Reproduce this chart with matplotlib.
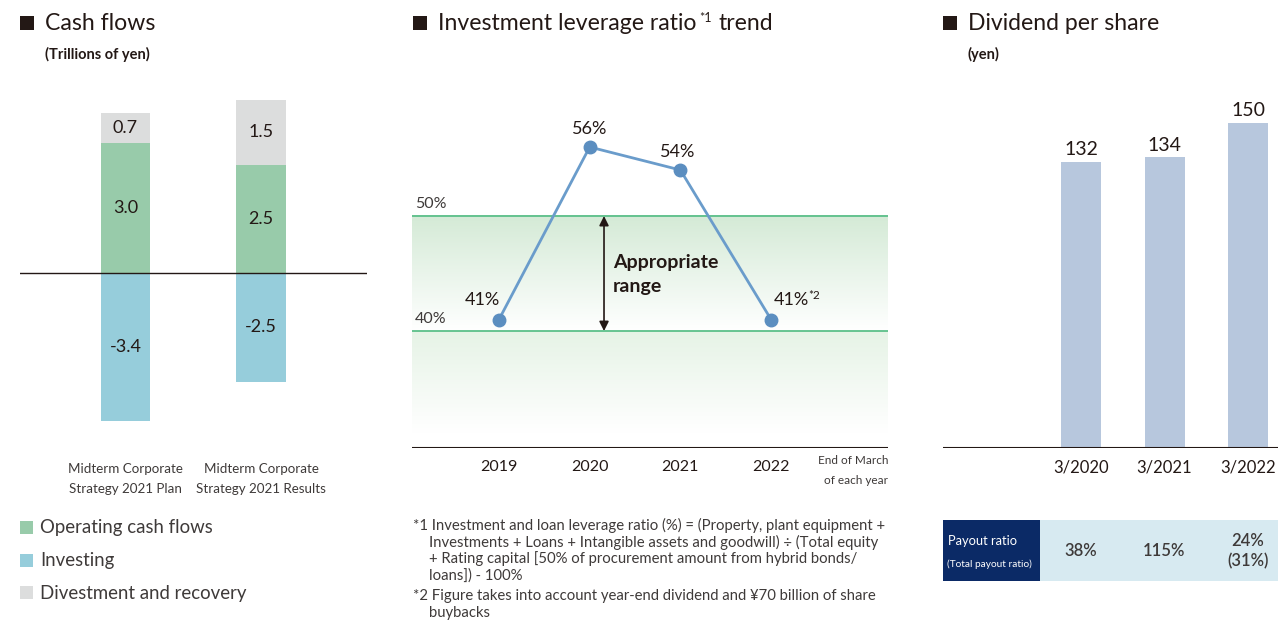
import matplotlib
matplotlib.use('Agg')
import matplotlib.pyplot as plt
import numpy as np
from matplotlib.patches import Rectangle

W, H = 1278, 620

# ---- data ----
cf_categories = ['Midterm Corporate\nStrategy 2021 Plan', 'Midterm Corporate\nStrategy 2021 Results']
cf_operating = [3.0, 2.5]
cf_investing = [-3.4, -2.5]
cf_divestment = [0.7, 1.5]
cf_legend = ['Operating cash flows', 'Investing', 'Divestment and recovery']

lev_years = ['2019', '2020', '2021', '2022']
lev_values = [41, 56, 54, 41]
lev_labels = ['41%', '56%', '54%', '41%']
lev_range = [40, 50]

div_periods = ['3/2020', '3/2021', '3/2022']
div_values = [132, 134, 150]
payout_labels = ['38%', '115%', '24%\n(31%)']

notes = ['*1 Investment and loan leverage ratio (%) = (Property, plant equipment +',
         'Investments + Loans + Intangible assets and goodwill) \u00f7 (Total equity',
         '+ Rating capital [50% of procurement amount from hybrid bonds/',
         'loans]) - 100%',
         '*2 Figure takes into account year-end dividend and \u00a570 billion of share',
         'buybacks']

# ---- colours ----
GREEN = '#98cbaa'
BLUE = '#96cddb'
GRAY = '#dcdddd'
TXT = '#231815'
SOFT = '#3e3a39'
LINE = '#6a9ccb'
MARK = '#5b8ec0'
BAND = '#5cbf8a'
DIVBAR = '#b7c7dd'
NAVY = '#0b2a66'
TABLE = '#d7eaf1'

plt.rcParams['font.family'] = ['Lato', 'DejaVu Sans']

fig = plt.figure(figsize=(W / 100, H / 100), dpi=100)
renderer = fig.canvas.get_renderer()


def rect(x0, y0, x1, y1):
    return [x0 / W, 1 - y1 / H, (x1 - x0) / W, (y1 - y0) / H]


def ftext(x, y, s, **kw):
    kw.setdefault('color', TXT)
    kw.setdefault('va', 'center')
    return fig.text(x / W, 1 - y / H, s, **kw)


def fbox(x0, y0, x1, y1, color):
    fig.patches.append(Rectangle((x0 / W, 1 - y1 / H), (x1 - x0) / W, (y1 - y0) / H,
                                 transform=fig.transFigure, color=color, lw=0))


def title(x, y, s):
    fbox(x, y - 7, x + 14, y + 7, TXT)
    t = ftext(x + 25, y, s, fontsize=16.6)
    return t.get_window_extent(renderer).x1


# ================= Cash flows =================
title(20, 23, 'Cash flows')
ftext(45, 54, '(Trillions of yen)', fontsize=10.5, fontweight='bold', color=TXT)

ax1 = fig.add_axes(rect(20, 78, 367, 438))
xpos = np.arange(len(cf_categories))
bw = 0.362
ax1.bar(xpos, cf_operating, bw, color=GREEN, lw=0)
ax1.bar(xpos, cf_divestment, bw, bottom=cf_operating, color=GRAY, lw=0)
ax1.bar(xpos, cf_investing, bw, color=BLUE, lw=0)
ax1.axhline(0, color=TXT, lw=1)
for i in range(len(xpos)):
    ax1.text(xpos[i], cf_operating[i] / 2, f'{cf_operating[i]:.1f}',
             ha='center', va='center', fontsize=13, color=TXT)
    ax1.text(xpos[i], cf_operating[i] + cf_divestment[i] / 2, f'{cf_divestment[i]:.1f}',
             ha='center', va='center', fontsize=13, color=TXT)
    ax1.text(xpos[i], cf_investing[i] / 2, f'{cf_investing[i]:.1f}',
             ha='center', va='center', fontsize=13, color=TXT)
ax1.set_xlim(-0.7786, 1.782)
ax1.set_ylim(-3.8, 4.5)
ax1.axis('off')
for i, lab in enumerate(cf_categories):
    for j, part in enumerate(lab.split('\n')):
        ax1.text(xpos[i], -4.51 - j * 0.46, part, ha='center', va='center', fontsize=9.6,
                 color=SOFT)

for i, (lab, col) in enumerate(zip(cf_legend, [GREEN, BLUE, GRAY])):
    y = 528 + i * 32.5
    fbox(20, y - 7, 33, y + 6, col)
    ftext(40, y, lab, fontsize=13.4, color=SOFT)

# ================= Investment leverage ratio =================
x_end = title(413, 23, 'Investment leverage ratio')
ftext(x_end + 3, 18, '*1', fontsize=9, ha='left')
ftext(x_end + 22, 23, 'trend', fontsize=16.6, ha='left')

ax2 = fig.add_axes(rect(412, 101, 888, 448))
ymin, ymax = 29.83, 60
xlo, xhi = -0.959, 4.289
g_top = np.array([212, 234, 214]) / 255
g_low = np.array([230, 243, 230]) / 255
n = 200
t = np.linspace(0, 1, n)[:, None]
band1 = g_top * (1 - t) + t
t2 = np.clip(t * 1.15, 0, 1)
band2 = g_low * (1 - t2) + t2
ax2.imshow(band1[:, None, :].repeat(2, axis=1), extent=[xlo, xhi, lev_range[0], lev_range[1]],
           aspect='auto', zorder=0)
ax2.imshow(band2[:, None, :].repeat(2, axis=1), extent=[xlo, xhi, ymin, lev_range[0]],
           aspect='auto', zorder=0)
for v in lev_range:
    ax2.axhline(v, color=BAND, lw=1.3, zorder=1)
    ax2.text(xlo + 0.03, v + 0.45, f'{v}%', ha='left', va='bottom', fontsize=11.5, color=SOFT)
ax2.axhline(ymin, color=TXT, lw=1.5, zorder=3)

lx = np.arange(len(lev_years))
ax2.plot(lx, lev_values, color=LINE, lw=2, zorder=4)
ax2.plot(lx, lev_values, 'o', color=MARK, ms=9, zorder=5)
ax2.text(lx[0] - 0.18, lev_values[0] + 1.7, lev_labels[0], ha='center', va='center', fontsize=13, color=TXT)
ax2.text(lx[1], lev_values[1] + 1.55, lev_labels[1], ha='center', va='center', fontsize=13, color=TXT)
ax2.text(lx[2] - 0.03, lev_values[2] + 1.6, lev_labels[2], ha='center', va='center', fontsize=13, color=TXT)
ax2.text(lx[3] + 0.22, lev_values[3] + 1.7, lev_labels[3], ha='center', va='center', fontsize=13, color=TXT)
ax2.text(lx[3] + 0.47, lev_values[3] + 2.05, '*2', ha='center', va='center', fontsize=8.5, color=TXT)

ax2.annotate('', xy=(1.158, lev_range[1]), xytext=(1.158, lev_range[0]),
             arrowprops=dict(arrowstyle='<|-|>', color=TXT, lw=1.2, mutation_scale=14,
                             shrinkA=0, shrinkB=0), zorder=6)
ax2.text(1.255, 45.95, 'Appropriate', ha='left', va='center', fontsize=14,
         fontweight='bold', color=TXT)
ax2.text(1.255, 43.85, 'range', ha='left', va='center', fontsize=14,
         fontweight='bold', color=TXT)
ax2.set_xlim(xlo, xhi)
ax2.set_ylim(ymin, ymax)
ax2.axis('off')
for i, yr in enumerate(lev_years):
    ax2.text(lx[i], ymin - 1.65, yr, ha='center', va='center', fontsize=11.5, color=TXT)
ftext(888, 460, 'End of March', ha='right', fontsize=8.5, color=SOFT)
ftext(888, 480, 'of each year', ha='right', fontsize=8.5, color=SOFT)

note_y = [525, 542, 559, 576, 596, 613]
for s, y in zip(notes, note_y):
    xx = 413 if s.startswith('*') else 429
    ftext(xx, y, s, ha='left', fontsize=10.7, color=SOFT)

# ================= Dividend per share =================
title(943, 23, 'Dividend per share')
ftext(967, 54, '(yen)', fontsize=10.5, fontweight='bold', color=TXT)

ax3 = fig.add_axes(rect(943, 90, 1278, 448))
dx = np.arange(len(div_periods))
ax3.bar(dx, div_values, 0.479, color=DIVBAR, lw=0)
for i, v in enumerate(div_values):
    ax3.text(dx[i], v + 1.5, str(v), ha='center', va='bottom', fontsize=14, color=TXT)
    ax3.text(dx[i], -8.8, div_periods[i], ha='center', va='center', fontsize=12, color=TXT)
ax3.axhline(0, color=TXT, lw=1.5)
ax3.set_xlim(-1.653, 2.359)
ax3.set_ylim(0, 165)
ax3.axis('off')

fbox(943, 520, 1040, 581, NAVY)
fbox(1040, 520, 1278, 581, TABLE)
ftext(948, 541, 'Payout ratio', ha='left', fontsize=9.3, color='white')
ftext(947, 564, '(Total payout ratio)', ha='left', fontsize=7.3, color='white')
for i, lab in enumerate(payout_labels):
    xp = [1081, 1164, 1248][i]
    ftext(xp, 551, lab, ha='center', fontsize=12, fontweight='semibold', color=SOFT,
          linespacing=1.3)

fig.savefig('out.png', dpi=100)
